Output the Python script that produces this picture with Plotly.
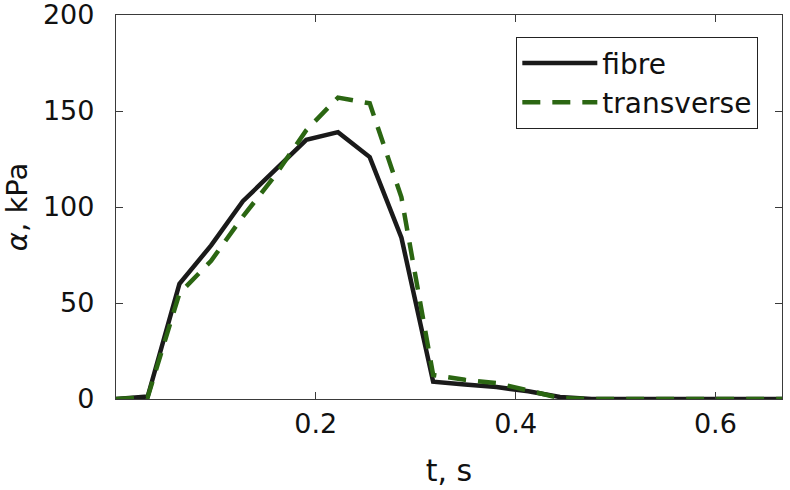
import plotly.graph_objects as go

# time samples (s) and activation (kPa)
t = [i * (2.0 / 3.0) / 21 for i in range(22)]
fibre = [0, 1.3, 60, 80, 103, 119, 135, 139, 126, 84, 9, 7.5, 6.2, 4, 1, 0,
         0, 0, 0, 0, 0, 0]
transverse = [0, 1, 55, 72, 95, 116, 140, 157, 154, 105, 12.5, 10, 8.3, 4.5, 0.5, 0,
              0, 0, 0, 0, 0, 0]

FONT = "DejaVu Sans"

fig = go.Figure()
fig.add_trace(go.Scatter(
    x=t, y=fibre, mode='lines', name='fibre',
    line=dict(color='#1a1a1a', width=4.5),
))
fig.add_trace(go.Scatter(
    x=t, y=transverse, mode='lines', name='transverse',
    line=dict(color='#2b6612', width=4.5, dash='18px,12px'),
))

axis_common = dict(
    showline=True, linecolor='#3a3a3a', linewidth=1.3,
    mirror='ticks', ticks='inside', ticklen=7, tickcolor='#3a3a3a', tickwidth=1.3,
    showgrid=False, zeroline=False, automargin=False,
    ticklabeloverflow='allow',
    tickfont=dict(family=FONT, size=27, color='#111'),
)

fig.update_xaxes(
    range=[0, 2.0 / 3.0], tickvals=[0.2, 0.4, 0.6], ticktext=['0.2', '0.4', '0.6'],
    ticklabelstandoff=0,
    title=dict(text='t, s', font=dict(family=FONT, size=30, color='#111'), standoff=22),
    **axis_common)
fig.update_yaxes(
    range=[0, 200], tickvals=[0, 50, 100, 150, 200],
    ticklabelstandoff=15,
    title=dict(text='<i>α</i>, kPa', font=dict(family=FONT, size=29, color='#111'), standoff=17),
    **axis_common)

fig.update_layout(
    width=790, height=490,
    margin=dict(l=116, r=8, t=15, b=91),
    plot_bgcolor='white', paper_bgcolor='white',
    font=dict(family=FONT),
    legend=dict(
        x=0.964, y=0.943, xanchor='right', yanchor='top',
        bgcolor='white', bordercolor='#222', borderwidth=1.3,
        font=dict(family=FONT, size=28, color='#111'),
        tracegroupgap=0, itemwidth=75,
    ),
)

# page body margin would shift the figure by 8px
fig.write_html("out.html", config={'displayModeBar': False},
               post_script="document.body.style.margin='0px';")
